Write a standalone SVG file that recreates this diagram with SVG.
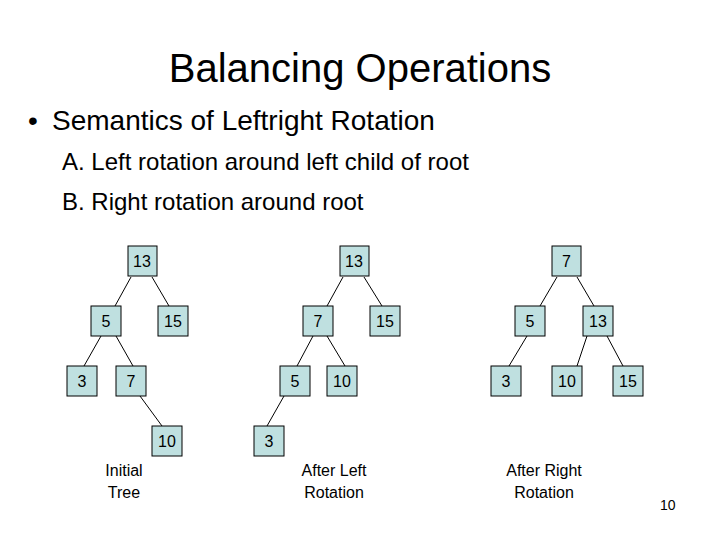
<svg xmlns="http://www.w3.org/2000/svg" width="720" height="540" viewBox="0 0 720 540">
<style>
text{font-family:"Liberation Sans",Arial,sans-serif;fill:#000}
.n rect{fill:#bfe0e0;stroke:#000;stroke-width:1}
.n text{font-size:16px;text-anchor:middle}
.c line{stroke:#000;stroke-width:1}
.cap{font-size:16px;text-anchor:middle}
</style>
<rect width="720" height="540" fill="#fff"/>
<text x="360" y="82" font-size="40" text-anchor="middle">Balancing Operations</text>
<text x="28" y="130" font-size="28">•</text>
<text x="52" y="130" font-size="28">Semantics of Leftright Rotation</text>
<text x="62" y="170" font-size="24">A. Left rotation around left child of root</text>
<text x="62" y="210" font-size="24">B. Right rotation around root</text>
<g class="c">
<line x1="131" y1="277" x2="115" y2="306"/><line x1="152" y1="277" x2="169" y2="306"/>
<line x1="101" y1="336" x2="84" y2="366"/><line x1="116" y1="336" x2="133" y2="366"/>
<line x1="140" y1="396" x2="162" y2="426"/>
<line x1="343" y1="277" x2="327" y2="306"/><line x1="364" y1="277" x2="382" y2="306"/>
<line x1="313" y1="336" x2="297" y2="366"/><line x1="327" y1="336" x2="345" y2="366"/>
<line x1="284" y1="396" x2="267" y2="426"/>
<line x1="557" y1="277" x2="540" y2="306"/><line x1="577" y1="277" x2="594" y2="306"/>
<line x1="527" y1="336" x2="509" y2="366"/><line x1="587" y1="336" x2="577" y2="366"/>
<line x1="607" y1="336" x2="623" y2="366"/>
</g>
<g id="t1-13" class="n"><rect x="128" y="246" width="29" height="30"/><text x="142" y="267">13</text></g>
<g id="t1-5" class="n"><rect x="91" y="306" width="30" height="30"/><text x="106" y="327">5</text></g>
<g id="t1-15" class="n"><rect x="158" y="306" width="30" height="30"/><text x="173" y="327">15</text></g>
<g id="t1-3" class="n"><rect x="67" y="366" width="30" height="30"/><text x="82" y="387">3</text></g>
<g id="t1-7" class="n"><rect x="116" y="366" width="30" height="30"/><text x="131" y="387">7</text></g>
<g id="t1-10" class="n"><rect x="152" y="426" width="30" height="30"/><text x="167" y="447">10</text></g>
<g id="t2-13" class="n"><rect x="340" y="246" width="29" height="30"/><text x="354" y="267">13</text></g>
<g id="t2-7" class="n"><rect x="303" y="306" width="30" height="30"/><text x="318" y="327">7</text></g>
<g id="t2-15" class="n"><rect x="370" y="306" width="30" height="30"/><text x="385" y="327">15</text></g>
<g id="t2-5" class="n"><rect x="280" y="366" width="30" height="30"/><text x="295" y="387">5</text></g>
<g id="t2-10" class="n"><rect x="327" y="366" width="30" height="30"/><text x="342" y="387">10</text></g>
<g id="t2-3" class="n"><rect x="254" y="426" width="30" height="30"/><text x="269" y="447">3</text></g>
<g id="t3-7" class="n"><rect x="552" y="246" width="29" height="30"/><text x="566.5" y="267">7</text></g>
<g id="t3-5" class="n"><rect x="515" y="306" width="30" height="30"/><text x="530" y="327">5</text></g>
<g id="t3-13" class="n"><rect x="583" y="306" width="30" height="30"/><text x="598" y="327">13</text></g>
<g id="t3-3" class="n"><rect x="491" y="366" width="30" height="30"/><text x="506" y="387">3</text></g>
<g id="t3-10" class="n"><rect x="552" y="366" width="30" height="30"/><text x="567" y="387">10</text></g>
<g id="t3-15" class="n"><rect x="613" y="366" width="30" height="30"/><text x="628" y="387">15</text></g>
<text class="cap" x="124" y="476">Initial</text><text class="cap" x="124" y="498">Tree</text>
<text class="cap" x="334" y="476">After Left</text><text class="cap" x="334" y="498">Rotation</text>
<text class="cap" x="544" y="476">After Right</text><text class="cap" x="544" y="498">Rotation</text>
<text x="660" y="510" font-size="14">10</text>
</svg>
